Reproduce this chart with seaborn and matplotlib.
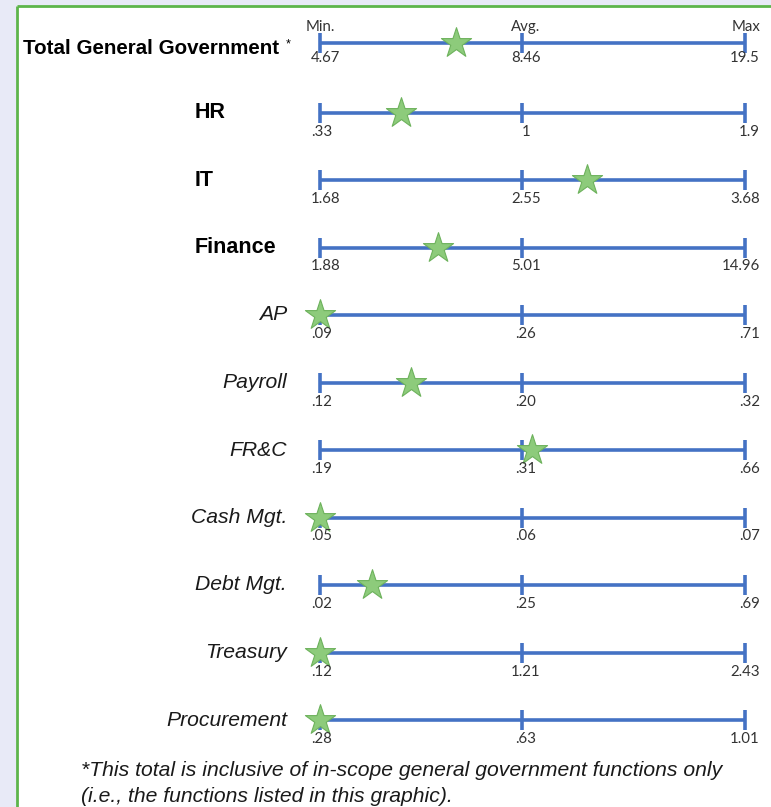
import numpy as np
import pandas as pd
import matplotlib
matplotlib.use("Agg")
import matplotlib.pyplot as plt
from matplotlib.patches import Rectangle
import seaborn as sns

# Benchmark rows: min / average / max of the peer range and our own score
rows = ["Total General Government", "HR", "IT", "Finance", "AP", "Payroll",
        "FR&C", "Cash Mgt.", "Debt Mgt.", "Treasury", "Procurement"]
mins = [4.67, 0.33, 1.68, 1.88, 0.09, 0.12, 0.19, 0.05, 0.02, 0.12, 0.28]
avgs = [8.46, 1.00, 2.55, 5.01, 0.26, 0.20, 0.31, 0.06, 0.25, 1.21, 0.63]
maxs = [19.5, 1.90, 3.68, 14.96, 0.71, 0.32, 0.66, 0.07, 0.69, 2.43, 1.01]
scores = [7.22, 0.60, 2.88, 3.71, 0.09, 0.156, 0.326, 0.05, 0.079, 0.12, 0.28]
min_labels = ["4.67", ".33", "1.68", "1.88", ".09", ".12", ".19", ".05", ".02", ".12", ".28"]
avg_labels = ["8.46", "1", "2.55", "5.01", ".26", ".20", ".31", ".06", ".25", "1.21", ".63"]
max_labels = ["19.5", "1.9", "3.68", "14.96", ".71", ".32", ".66", ".07", ".69", "2.43", "1.01"]
header_labels = ["Min.", "Avg.", "Max"]
footnote_lines = ["*This total is inclusive of in-scope general government functions only",
                  "(i.e., the functions listed in this graphic)."]

sns.set_theme(style="white")
plt.rcParams["font.family"] = ["Liberation Sans", "DejaVu Sans"]

W, H = 771, 807
fig = plt.figure(figsize=(W / 100, H / 100), dpi=100)
fig.patch.set_facecolor("#E8EAF7")
ax = fig.add_axes([0, 0, 1, 1])
ax.set_xlim(0, W)
ax.set_ylim(H, 0)
ax.axis("off")

# white panel with green top/left border
ax.add_patch(Rectangle((17, 6), W, H, facecolor="white", edgecolor="none", zorder=0))
ax.plot([17, 17], [6, H], color="#5DB54B", lw=2, zorder=1, solid_capstyle="butt")
ax.plot([17, W], [6, 6], color="#5DB54B", lw=2, zorder=1, solid_capstyle="butt")

# scale geometry: min -> left end, avg -> inner tick, max -> right end
X0, X1 = 320, 745
FRACS = [0.0, 0.475, 1.0]
Y_TOTAL, Y_FIRST, DY = 43, 112.5, 67.5


def to_px(v, i):
    return X0 + np.interp(v, [mins[i], avgs[i], maxs[i]], FRACS) * (X1 - X0)


df = pd.DataFrame({"row": rows, "min": mins, "avg": avgs, "max": maxs, "score": scores})
df["y"] = [Y_TOTAL] + [Y_FIRST + k * DY for k in range(len(rows) - 1)]
df["x_min"] = [to_px(v, i) for i, v in enumerate(mins)]
df["x_avg"] = [to_px(v, i) for i, v in enumerate(avgs)]
df["x_max"] = [to_px(v, i) for i, v in enumerate(maxs)]
df["x_score"] = [to_px(v, i) for i, v in enumerate(scores)]

line_c = "#4472C4"
ax.hlines(df["y"], df["x_min"], df["x_max"], color=line_c, lw=2.6, zorder=2)
for col in ["x_min", "x_avg", "x_max"]:
    ax.vlines(df[col], df["y"] - 10, df["y"] + 10, color=line_c, lw=2.6, zorder=2)

sns.scatterplot(data=df, x="x_score", y="y", marker="*", s=520,
                color="#8DCB7B", edgecolor="#6DB25C", linewidth=0.8,
                zorder=3, ax=ax, legend=False)

num_font = dict(family=["Lato", "DejaVu Sans"], fontsize=10.8, color="#333333")
for i, r in df.iterrows():
    yl = r["y"] + (15 if i == 0 else 19)
    ax.text(311, yl, min_labels[i], ha="left", va="center", **num_font)
    ax.text(r["x_avg"] + 4, yl, avg_labels[i], ha="center", va="center", **num_font)
    ax.text(760, yl, max_labels[i], ha="right", va="center", **num_font)

    if i == 0:
        ax.text(23, r["y"] + 6, rows[i], ha="left", va="center",
                fontsize=14.8, fontweight="bold", color="black")
        ax.text(286, r["y"] + 1, "*", ha="left", va="center", fontsize=9, color="black")
    elif i <= 3:
        ax.text(195, r["y"], rows[i], ha="left", va="center",
                fontsize=15.5, fontweight="bold", color="black")
    else:
        ax.text(287, r["y"], rows[i], ha="right", va="center",
                fontsize=15.2, fontstyle="italic", color="#1a1a1a")

# column headers
for lbl, x in zip(header_labels, [X0, X0 + FRACS[1] * (X1 - X0) + 4, X1 + 1]):
    ax.text(x, 27, lbl, ha="center", va="center", **num_font)

for k, line in enumerate(footnote_lines):
    ax.text(81, 770 + k * 26, line, ha="left", va="center", fontsize=15.2,
            fontstyle="italic", color="#1a1a1a")

fig.savefig("out.png", dpi=100, facecolor=fig.get_facecolor())
